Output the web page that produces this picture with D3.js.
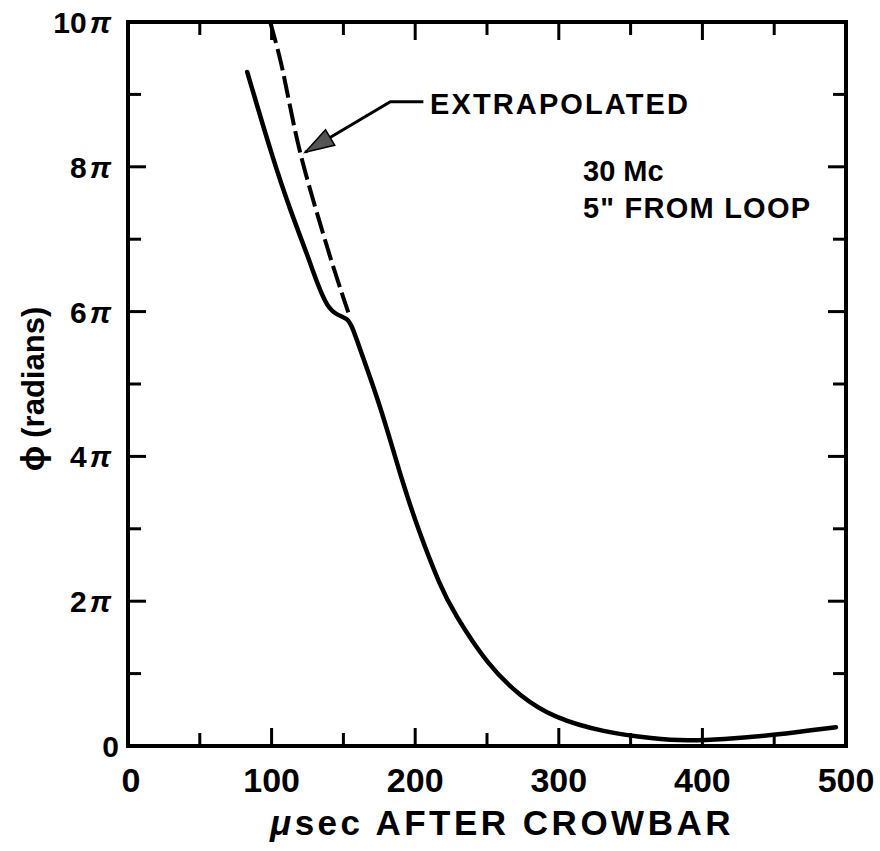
<!DOCTYPE html>
<html>
<head>
<meta charset="utf-8">
<script src="https://cdn.jsdelivr.net/npm/d3@7"></script>
<style>
  html, body { margin: 0; padding: 0; background: #fff; }
  svg { display: block; }
  text { font-family: "Liberation Sans", Arial, sans-serif; fill: #000; font-weight: bold; }
</style>
</head>
<body>
<svg id="chart" width="880" height="851"></svg>
<script>
// ---- data (phi in units of pi, time in microseconds) ----
const solidX = [83, 101, 113, 125.5, 131.8, 138.8, 145.7, 152.7, 156.2, 161.8, 173.6, 180.6, 191.1, 202.2, 217.6, 226.6, 250.3, 273.4, 296.4, 331.2, 366.1, 389.8, 413, 450, 493];
const solidY = [9.31, 8.10, 7.40, 6.75, 6.39, 6.06, 5.95, 5.91, 5.79, 5.47, 4.81, 4.36, 3.65, 2.98, 2.20, 1.85, 1.12, 0.68, 0.39, 0.19, 0.10, 0.07, 0.09, 0.15, 0.26];
const dashX = [99, 106, 120, 140.9, 153.4];
const dashY = [10.0, 9.48, 8.19, 6.75, 5.99];
const xTickValues = [0, 100, 200, 300, 400, 500];
const xMinorTicks = [50, 150, 250, 350, 450];
const yTickValues = [0, 2, 4, 6, 8, 10];
const yTickLabels = ["0", "2", "4", "6", "8", "10"];
const yMinorTicks = [1, 3, 5, 7, 9];
const arrowTip = [123.4, 8.2];
const arrowElbow = [182.7, 8.9];
const arrowEnd = [205.7, 8.9];
const labelExtrap = "EXTRAPOLATED";
const labelNote1 = "30 Mc";
const labelNote2 = "5\" FROM LOOP";
const xTitle = "AFTER CROWBAR";
const yTitle = "(radians)";

// ---- layout ----
const L = 128, R = 846, T = 22, B = 746;
const svg = d3.select("#chart");
const x = d3.scaleLinear().domain([0, 500]).range([L, R]);
const y = d3.scaleLinear().domain([0, 10]).range([B, T]);

const majorLen = 18, minorLen = 13;

// ticks (inward on all four sides)
const tg = svg.append("g").attr("stroke", "#000").attr("stroke-width", 3);
xTickValues.concat(xMinorTicks).forEach(v => {
  const len = xTickValues.includes(v) ? majorLen : minorLen;
  if (v === 0 || v === 500) return;
  tg.append("line").attr("x1", x(v)).attr("x2", x(v)).attr("y1", B).attr("y2", B - len);
  tg.append("line").attr("x1", x(v)).attr("x2", x(v)).attr("y1", T).attr("y2", T + len);
});
yTickValues.concat(yMinorTicks).forEach(v => {
  const len = yTickValues.includes(v) ? majorLen : minorLen;
  if (v === 0 || v === 10) return;
  tg.append("line").attr("y1", y(v)).attr("y2", y(v)).attr("x1", L).attr("x2", L + len);
  tg.append("line").attr("y1", y(v)).attr("y2", y(v)).attr("x1", R).attr("x2", R - len);
});

// frame
svg.append("rect").attr("x", L).attr("y", T).attr("width", R - L).attr("height", B - T)
  .attr("fill", "none").attr("stroke", "#000").attr("stroke-width", 4);

// x tick labels
svg.append("g").selectAll("text").data(xTickValues).join("text")
  .attr("x", d => x(d) + (d === 0 ? 3 : 0)).attr("y", 792)
  .attr("text-anchor", "middle").attr("font-size", 34)
  .text(d => d);

// y tick labels
const yl = svg.append("g").selectAll("text").data(yTickValues).join("text")
  .attr("x", d => d === 0 ? 119 : 111).attr("y", d => y(d) + 11)
  .attr("text-anchor", "end").attr("font-size", 30);
yl.each(function(d, i) {
  const t = d3.select(this);
  t.append("tspan").text(yTickLabels[i]);
  if (d !== 0) t.append("tspan").attr("font-style", "italic").attr("dx", 3).text("\u03c0");
});

// axis titles
const xt = svg.append("text").attr("x", 502).attr("y", 835).attr("text-anchor", "middle")
  .attr("font-size", 35).attr("letter-spacing", 3.5);
xt.append("tspan").attr("font-style", "italic").text("\u03bc");
xt.append("tspan").text("sec " + xTitle);

const ytl = svg.append("text").attr("transform", "translate(44,389) rotate(-90)")
  .attr("text-anchor", "middle").attr("font-size", 31);
ytl.append("tspan").attr("font-size", 34).text("\u03d5");
ytl.append("tspan").attr("dx", 8).text(yTitle);

// curves
const solidLine = d3.line().x(d => x(d[0])).y(d => y(d[1])).curve(d3.curveBasis);
const dashLine = d3.line().x(d => x(d[0])).y(d => y(d[1])).curve(d3.curveCatmullRom.alpha(0.5));
svg.append("path").datum(solidX.map((v, i) => [v, solidY[i]]))
  .attr("d", solidLine).attr("fill", "none").attr("stroke", "#000")
  .attr("stroke-width", 4.5).attr("stroke-linecap", "round").attr("stroke-linejoin", "round");
svg.append("path").datum(dashX.map((v, i) => [v, dashY[i]]))
  .attr("d", dashLine).attr("fill", "none").attr("stroke", "#000")
  .attr("stroke-width", 4).attr("stroke-dasharray", "22 6");

// arrow
const tip = [x(arrowTip[0]), y(arrowTip[1])];
const elb = [x(arrowElbow[0]), y(arrowElbow[1])];
const end = [x(arrowEnd[0]), y(arrowEnd[1])];
svg.append("polyline").attr("points", [end, elb, tip].map(p => p.join(",")).join(" "))
  .attr("fill", "none").attr("stroke", "#000").attr("stroke-width", 3);
const dx = elb[0] - tip[0], dy = elb[1] - tip[1], dl = Math.hypot(dx, dy);
const ux = dx / dl, uy = dy / dl, hl = 29, hw = 9;
const base = [tip[0] + ux * hl, tip[1] + uy * hl];
svg.append("polygon")
  .attr("points", [tip, [base[0] - uy * hw, base[1] + ux * hw], [base[0] + uy * hw, base[1] - ux * hw]].map(p => p.join(",")).join(" "))
  .attr("fill", "#555").attr("stroke", "#000").attr("stroke-width", 1.5);

// annotations
svg.append("text").attr("x", 430).attr("y", 114).attr("font-size", 29)
  .attr("textLength", 258).attr("lengthAdjust", "spacing").text(labelExtrap);
svg.append("text").attr("x", 583).attr("y", 181).attr("font-size", 29).text(labelNote1);
svg.append("text").attr("x", 583).attr("y", 218).attr("font-size", 29)
  .attr("textLength", 227).attr("lengthAdjust", "spacing").text(labelNote2);
</script>
</body>
</html>
